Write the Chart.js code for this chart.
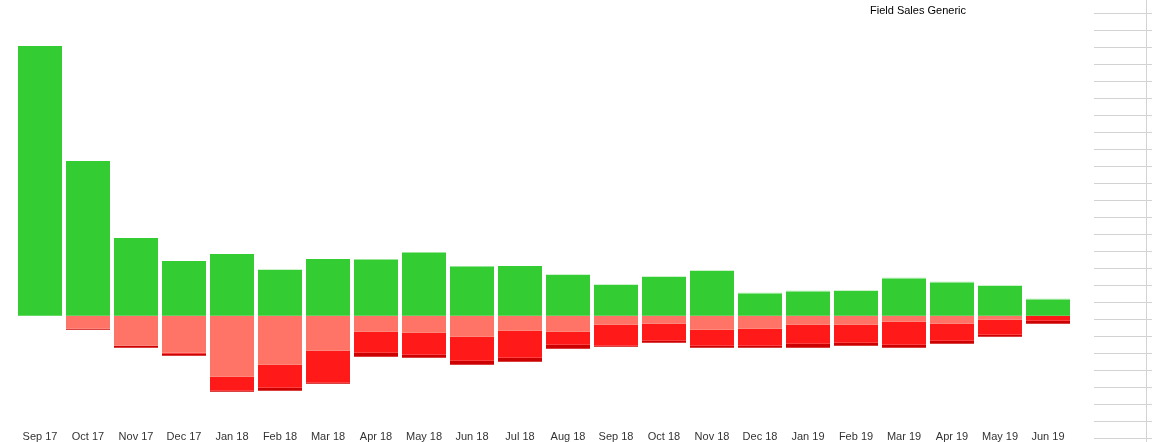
<!DOCTYPE html>
<html>
<head>
<meta charset="utf-8">
<script src="https://cdn.jsdelivr.net/npm/chart.js@4"></script>
<style>
  html, body { margin: 0; padding: 0; background: #fff; }
  #wrap { width: 1152px; height: 442px; position: relative; }
</style>
</head>
<body>
<div id="wrap"><canvas id="grafica-ventas"></canvas></div>
<script>
const meses = ['Sep 17', 'Oct 17', 'Nov 17', 'Dec 17', 'Jan 18', 'Feb 18', 'Mar 18', 'Apr 18',
    'May 18', 'Jun 18', 'Jul 18', 'Aug 18', 'Sep 18', 'Oct 18', 'Nov 18', 'Dec 18',
    'Jan 19', 'Feb 19', 'Mar 19', 'Apr 19', 'May 19', 'Jun 19'];

// positive side
const verde = [270, 155, 78, 55, 62, 46, 57, 56, 63, 49, 50, 41, 31, 39, 45, 22, 24, 25, 37, 33, 30, 16];
const verdeClaro = [0, 0, 0, 0, 0, 0, 0, 1, 1, 1, 0, 0, 0, 0, 0, 1, 1, 0, 1, 1, 0, 1];

// negative side
const salmon = [0, -13, -30, -37, -61, -49, -35, -16, -17, -21, -15, -16, -9, -8, -14, -13, -9, -9, -6, -8, -4, 0];
const rojo = [0, 0, 0, -1, -14, -23, -32, -21, -22, -24, -27, -13, -21, -17, -16, -17, -19, -18, -23, -17, -15, -5];
const rojoOscuro = [0, -1, -2, -2, -1, -3, -1, -4, -3, -4, -4, -4, -1, -2, -2, -2, -4, -3, -3, -3, -2, -3];

const titulo = 'Field Sales Generic';

// empty ruled panel on the right + title text
const panelDerecho = {
    id: 'panelDerecho',
    afterDraw(chart) {
        const ctx = chart.ctx;
        ctx.save();
        ctx.strokeStyle = '#d3d3d3';
        ctx.lineWidth = 1;
        for (let y = 13; y <= 442; y += 17) {
            ctx.beginPath();
            ctx.moveTo(1094, y + 0.5);
            ctx.lineTo(1152, y + 0.5);
            ctx.stroke();
        }
        ctx.beginPath();
        ctx.moveTo(1146.5, 0);
        ctx.lineTo(1146.5, 442);
        ctx.stroke();

        ctx.fillStyle = '#000';
        ctx.font = '11px "Liberation Sans", Arial, sans-serif';
        ctx.textAlign = 'left';
        ctx.textBaseline = 'middle';
        ctx.fillText(titulo, 870, 11);
        ctx.restore();
    }
};

const ctx = document.getElementById('grafica-ventas').getContext('2d');
new Chart(ctx, {
    type: 'bar',
    data: {
        labels: meses,
        datasets: [
            { label: 'Verde', data: verde, backgroundColor: '#33cc33' },
            { label: 'Verde claro', data: verdeClaro, backgroundColor: '#99e699' },
            { label: 'Salmon', data: salmon, backgroundColor: '#ff7466' },
            { label: 'Rojo', data: rojo, backgroundColor: '#ff1919' },
            { label: 'Rojo oscuro', data: rojoOscuro, backgroundColor: '#cc0000' }
        ]
    },
    options: {
        responsive: true,
        maintainAspectRatio: false,
        animation: false,
        datasets: {
            bar: {
                categoryPercentage: 1,
                barPercentage: 0.9167,
                borderWidth: 0
            }
        },
        layout: {
            padding: { left: 16, right: 80, top: 16, bottom: -17 }
        },
        plugins: {
            legend: { display: false },
            tooltip: { enabled: false },
            title: { display: false }
        },
        scales: {
            x: {
                stacked: true,
                grid: { display: false, drawTicks: false },
                border: { display: false },
                ticks: {
                    color: '#333',
                    padding: 15,
                    maxRotation: 0,
                    autoSkip: false,
                    font: { family: '"Liberation Sans", Arial, sans-serif', size: 11 }
                }
            },
            y: {
                stacked: true,
                display: false,
                min: -100,
                max: 300
            }
        }
    },
    plugins: [panelDerecho]
});
</script>
</body>
</html>
